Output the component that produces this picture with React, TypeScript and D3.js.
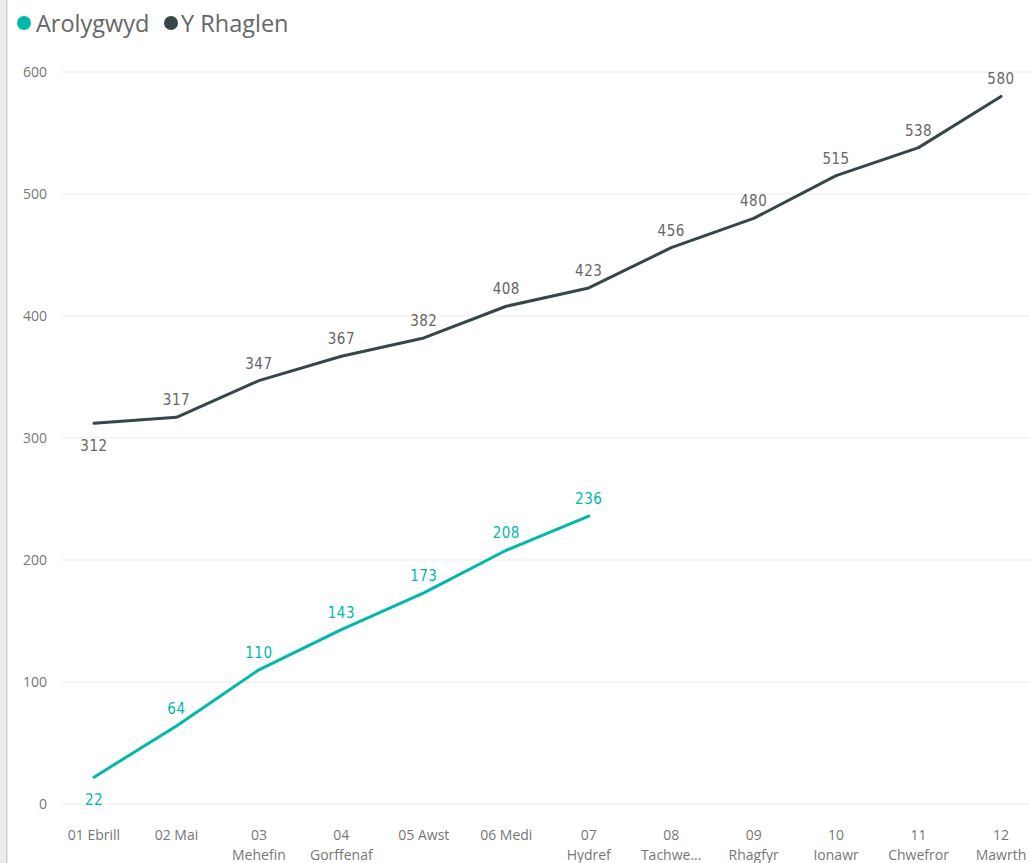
import React from "react";
import * as d3 from "d3";

const categories = ["01 Ebrill", "02 Mai", "03 Mehefin", "04 Gorffenaf", "05 Awst", "06 Medi", "07 Hydref", "08 Tachwedd", "09 Rhagfyr", "10 Ionawr", "11 Chwefror", "12 Mawrth"];
const tickLines: string[][] = [["01 Ebrill"], ["02 Mai"], ["03", "Mehefin"], ["04", "Gorffenaf"], ["05 Awst"], ["06 Medi"], ["07", "Hydref"], ["08", "Tachwe..."], ["09", "Rhagfyr"], ["10", "Ionawr"], ["11", "Chwefror"], ["12", "Mawrth"]];
const arolygwyd = [22, 64, 110, 143, 173, 208, 236];
const yRhaglen = [312, 317, 347, 367, 382, 408, 423, 456, 480, 515, 538, 580];
const yTicks = [0, 100, 200, 300, 400, 500, 600];
const belowLabels = { Arolygwyd: [0], Rhaglen: [0] };

const W = 1030, H = 863;
const TEAL = "#01B8AA", DARK = "#374649";

export default function App() {
  const x = d3.scalePoint<string>().domain(categories).range([94, 1001]);
  const y = d3.scaleLinear().domain([0, 600]).range([804, 72]);
  const line = d3.line<number>().x((_, i) => x(categories[i])!).y(d => y(d));
  const labelFont = "'DejaVu Sans Condensed', 'DejaVu Sans', sans-serif";
  const uiFont = "'Open Sans', 'Noto Sans', sans-serif";

  const labels = (vals: number[], color: string, below: number[]) =>
    vals.map((v, i) => (
      <text key={i} x={x(categories[i])!} y={below.includes(i) ? y(v) + 28 : y(v) - 12}
        textAnchor="middle" fontFamily={labelFont} fontSize={15} fill={color} letterSpacing={0.5}>{v}</text>
    ));

  return (
    <div style={{ position: "absolute", left: 0, top: 0 }}>
      <svg width={W} height={H} style={{ display: "block", background: "#fff" }}>
        <rect x={0} y={0} width={6} height={H} fill="#ececec" />
        <rect x={6} y={0} width={1.5} height={H} fill="#cfcfcf" />
        {yTicks.map(t => (
          <g key={t}>
            <line x1={62} x2={W} y1={y(t)} y2={y(t)} stroke="#ececec" strokeWidth={1} />
            <text x={47} y={y(t) + 5} textAnchor="end" fontFamily={uiFont} fontSize={14} fill="#777">{t}</text>
          </g>
        ))}
        {tickLines.map((ls, i) => (
          <text key={i} x={x(categories[i])!} y={840} textAnchor="middle" fontFamily={uiFont} fontSize={14} fill="#777">
            {ls.map((l, j) => <tspan key={j} x={x(categories[i])!} dy={j === 0 ? 0 : 20}>{l}</tspan>)}
          </text>
        ))}
        <path d={line(yRhaglen)!} fill="none" stroke={DARK} strokeWidth={3} strokeLinejoin="round" strokeLinecap="round" />
        <path d={line(arolygwyd)!} fill="none" stroke={TEAL} strokeWidth={3} strokeLinejoin="round" strokeLinecap="round" />
        {labels(yRhaglen, "#666", belowLabels.Rhaglen)}
        {labels(arolygwyd, TEAL, belowLabels.Arolygwyd)}
        <circle cx={24} cy={23} r={7} fill={TEAL} />
        <text x={36} y={32} fontFamily={uiFont} fontSize={23.5} fill="#666">Arolygwyd</text>
        <circle cx={171} cy={23} r={7} fill={DARK} />
        <text x={181} y={32} fontFamily={uiFont} fontSize={23.5} fill="#666">Y Rhaglen</text>
      </svg>
    </div>
  );
}
